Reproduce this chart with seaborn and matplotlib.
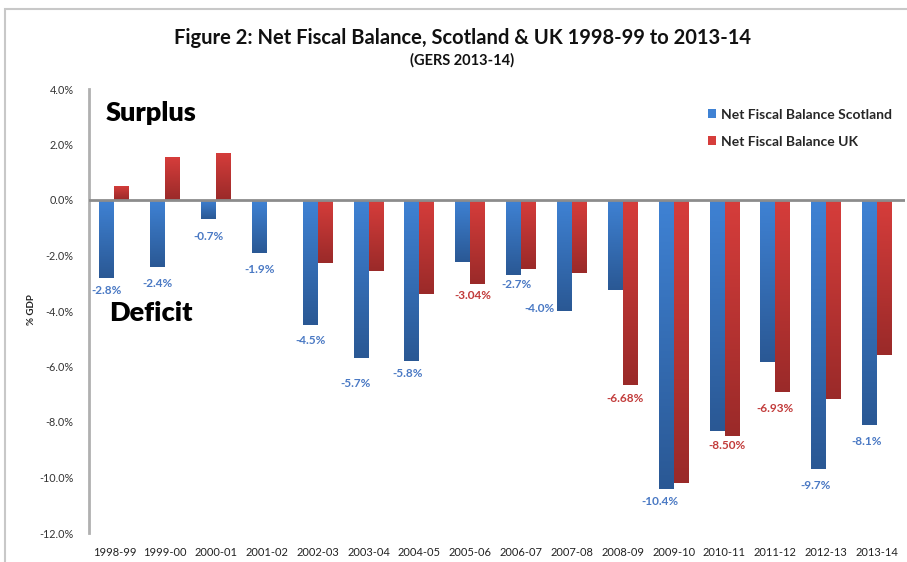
import numpy as np
import pandas as pd
import matplotlib
matplotlib.use("Agg")
import matplotlib.pyplot as plt
import seaborn as sns
from matplotlib.patches import Rectangle, Patch
from matplotlib.colors import LinearSegmentedColormap

# ---- data ----
years = ["1998-99", "1999-00", "2000-01", "2001-02", "2002-03", "2003-04", "2004-05",
         "2005-06", "2006-07", "2007-08", "2008-09", "2009-10", "2010-11", "2011-12",
         "2012-13", "2013-14"]
scotland = [-2.8, -2.4, -0.7, -1.9, -4.5, -5.7, -5.8, -2.24, -2.7, -4.0, -3.26, -10.4,
            -8.33, -5.82, -9.7, -8.1]
uk = [0.52, 1.54, 1.70, -0.05, -2.28, -2.55, -3.39, -3.04, -2.5, -2.64, -6.68, -10.19,
      -8.50, -6.93, -7.16, -5.58]
series_names = ["Net Fiscal Balance Scotland", "Net Fiscal Balance UK"]
yticks = [4, 2, 0, -2, -4, -6, -8, -10, -12]

# labelled points: (series index, year index, text)
labels_series = [0, 0, 0, 0, 0, 0, 0, 1, 0, 0, 1, 0, 1, 1, 0, 0]
labels_text = ["-2.8%", "-2.4%", "-0.7%", "-1.9%", "-4.5%", "-5.7%", "-5.8%", "-3.04%",
               "-2.7%", "-4.0%", "-6.68%", "-10.4%", "-8.50%", "-6.93%", "-9.7%", "-8.1%"]
# style: label offsets in pixels (dx, dy below bar end)
label_dx = [0, 0, 0, 0, 0, -6, -4, -5, 3, -25, -5, -6, -5, -8, -3, -3]
label_dy = [13, 17, 17, 17, 16, 25, 13, 11, 10, -3, 13, 13, 10, 16, 16, 17]

df = pd.DataFrame({
    "year": years * 2,
    "value": scotland + uk,
    "series": [series_names[0]] * len(years) + [series_names[1]] * len(years),
})

W, H = 907, 562
fig = plt.figure(figsize=(W / 100, H / 100), dpi=100)
sns.set_style("white")
plt.rcParams["font.family"] = ["Lato", "DejaVu Sans"]

ax = fig.add_axes([89 / W, 1 - 533 / H, (905 - 89) / W, (533 - 89) / H])
blue_top, blue_bot = "#3f82d4", "#2a5894"
red_top, red_bot = "#d63d3b", "#9a2a29"
sns.barplot(data=df, x="year", y="value", hue="series", order=years,
            hue_order=series_names, palette=["#3570b8", "#c0393b"],
            width=0.59, gap=0, ax=ax, legend=False, saturation=1)

# gradient fills
cmaps = [LinearSegmentedColormap.from_list("b", [blue_top, blue_bot]),
         LinearSegmentedColormap.from_list("r", [red_top, red_bot])]
grad = np.linspace(0, 1, 256).reshape(-1, 1)
for ci, cont in enumerate(ax.containers):
    for bar in cont:
        x0, y0 = bar.get_x(), bar.get_y()
        w, h = bar.get_width(), bar.get_height()
        lo, hi = min(y0, y0 + h), max(y0, y0 + h)
        if hi - lo < 1e-9:
            continue
        im = ax.imshow(grad, cmap=cmaps[ci], aspect="auto",
                       extent=(x0, x0 + w, lo, hi), origin="upper", zorder=2)
        im.set_clip_path(bar)
        bar.set_edgecolor("none")

ax.set_xlim(-0.5, len(years) - 0.5 + 0.05)
ax.set_ylim(-12, 4)
ax.set_yticks(yticks)
ax.set_yticklabels([f"{t:.1f}%" for t in yticks])
ax.tick_params(axis="y", length=0, pad=11, labelsize=7.8, labelcolor="#333333")
ax.tick_params(axis="x", length=0, pad=10, labelsize=8, labelcolor="#222222")
ax.set_xlabel("")
ax.set_ylabel("")
for s in ["top", "right", "bottom"]:
    ax.spines[s].set_visible(False)
ax.spines["left"].set_color("#b0b0b0")
ax.spines["left"].set_linewidth(2)
ax.axhline(0, color="#8c8c8c", lw=2, zorder=3)

# data labels
label_colors = ["#4a79c4", "#c23b3a"]
for i, (si, txt) in enumerate(zip(labels_series, labels_text)):
    bar = ax.containers[si][i]
    xc = bar.get_x() + bar.get_width() / 2
    yv = [scotland, uk][si][i]
    ax.annotate(txt, (xc, yv), xytext=(label_dx[i] * 0.72, -label_dy[i] * 0.72),
                textcoords="offset points", ha="center", va="center",
                fontsize=8.5, fontweight="bold", color=label_colors[si], zorder=4)

# legend
handles = [Patch(facecolor=blue_top, edgecolor="none"), Patch(facecolor=red_top, edgecolor="none")]
fig.legend(handles, series_names, loc="upper left", bbox_to_anchor=(695 / W, 1 - 96 / H),
           frameon=False, prop={"weight": "bold", "size": 10}, handlelength=0.6,
           handleheight=0.6, handletextpad=0.4, labelspacing=1.1)

# titles and annotations
fig.text(462 / W, 1 - 38 / H, "Figure 2: Net Fiscal Balance, Scotland & UK 1998-99 to 2013-14",
         ha="center", va="center", fontsize=14.5, fontweight="bold", color="#111111")
fig.text(462 / W, 1 - 60 / H, "(GERS 2013-14)", ha="center", va="center",
         fontsize=10.5, fontweight="bold", color="#111111")
fig.text(151 / W, 1 - 113 / H, "Surplus", ha="center", va="center",
         fontsize=19.5, fontweight="heavy", color="#000000")
fig.text(151 / W, 1 - 313 / H, "Deficit", ha="center", va="center",
         fontsize=19.5, fontweight="heavy", color="#000000")
fig.text(32 / W, 1 - 310 / H, "% GDP", ha="center", va="center", rotation=90,
         fontsize=7, fontweight="bold", color="#222222")

# outer frame
fig.patches.append(Rectangle((5 / W, -0.1), 1.2, 1 - 9 / H + 0.1, transform=fig.transFigure,
                             fill=False, edgecolor="#c8c8c8", lw=1.5, zorder=0))

fig.savefig("out.png", dpi=100)
